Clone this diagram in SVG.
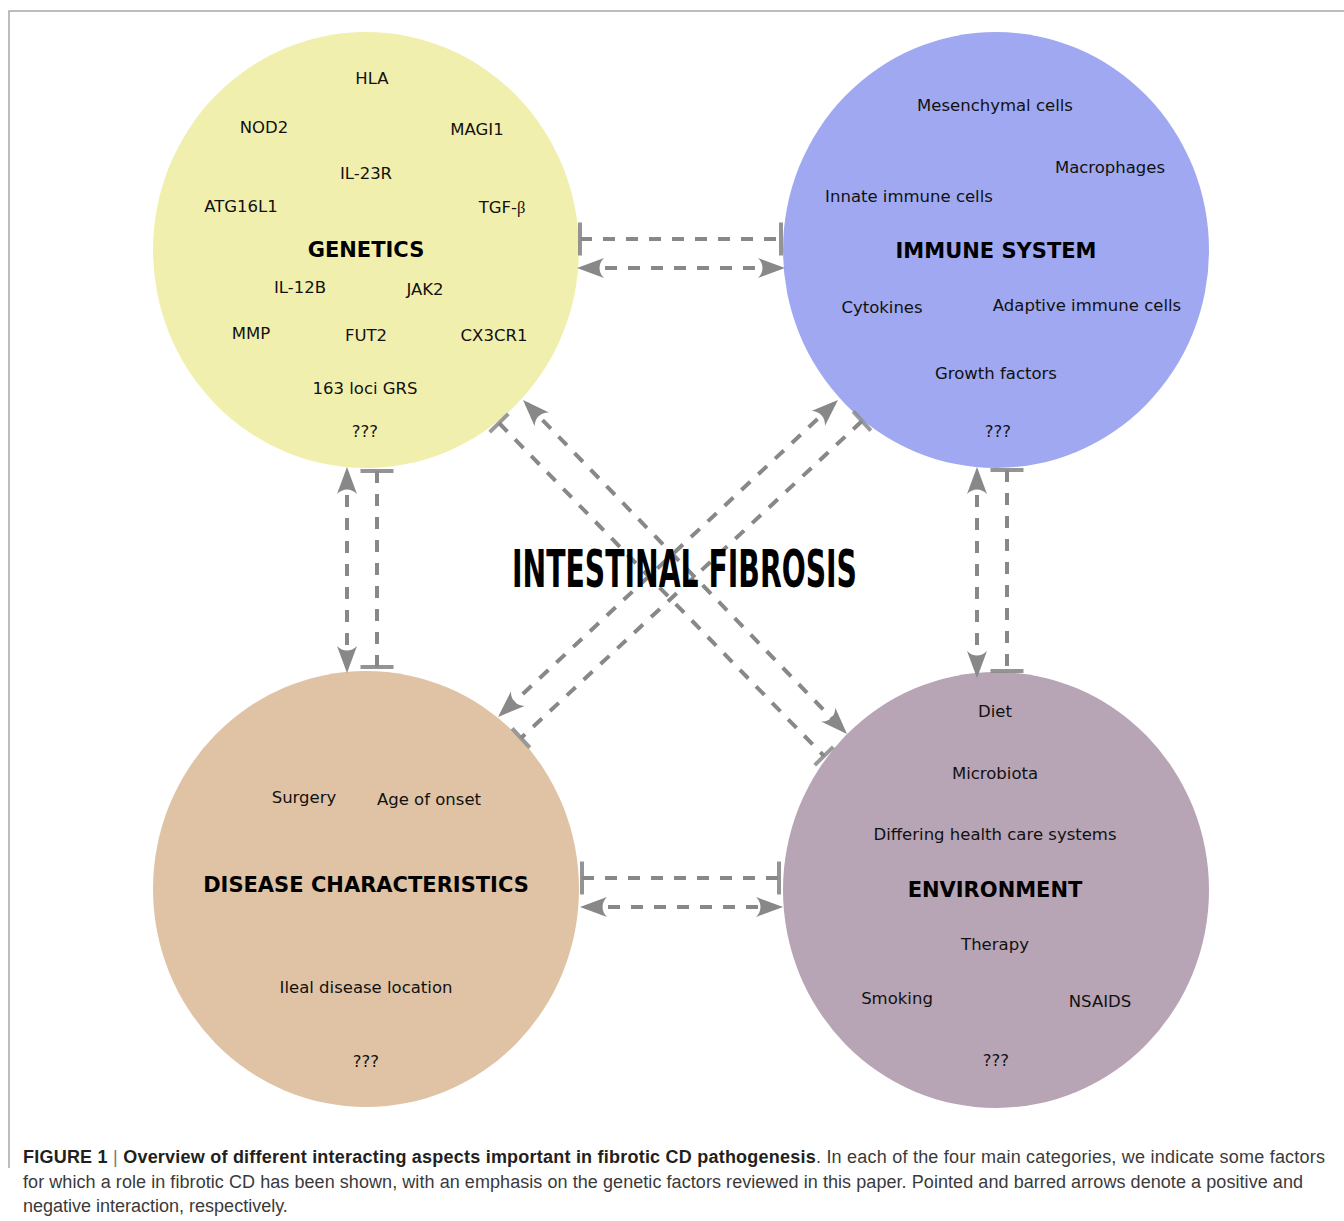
<svg xmlns="http://www.w3.org/2000/svg" width="1344" height="1221" viewBox="0 0 1344 1221">
<style>
  .lbl { font-family: "DejaVu Sans", "Liberation Sans", sans-serif; font-size: 16.5px; fill: #111; text-anchor: middle; }
  .ttl { font-family: "DejaVu Sans", "Liberation Sans", sans-serif; font-size: 21px; font-weight: bold; fill: #000; text-anchor: middle; }
  .con { fill: none; stroke: #888; stroke-width: 4; stroke-dasharray: 12 11; }
  .cap { font-family: "Liberation Sans", Arial, sans-serif; font-size: 18px; fill: #3a3a3a; }
  .capb { font-weight: bold; fill: #231f20; }
  .frame { stroke: #a8a8a8; stroke-width: 1.5; fill: none; }
</style>
<defs>
  <marker id="arrow" markerUnits="userSpaceOnUse" viewBox="-30 -12 40 24" refX="0" refY="0" markerWidth="40" markerHeight="24" orient="auto-start-reverse" overflow="visible">
    <path d="M5,0 L-22,-10 C-16,-4 -16,4 -22,10 Z" fill="#888"/>
  </marker>
  <marker id="bar" markerUnits="userSpaceOnUse" viewBox="-4 -18 8 36" refX="0" refY="0" markerWidth="8" markerHeight="36" orient="auto" overflow="visible">
    <path d="M0,-16.5 V16.5" stroke="#888" stroke-width="4" stroke-opacity="0.9"/>
  </marker>
  <marker id="bard" markerUnits="userSpaceOnUse" viewBox="-4 -16 8 32" refX="0" refY="0" markerWidth="8" markerHeight="32" orient="auto" overflow="visible">
    <path d="M0,-13 V13" stroke="#888" stroke-width="4" stroke-opacity="0.85"/>
  </marker>
</defs>

<rect x="0" y="0" width="1344" height="1221" fill="#fff"/>
<path class="frame" d="M9,1168 V11 H1344"/>

<g id="genetics">
  <ellipse cx="366" cy="250" rx="213" ry="218" fill="#f1efae"/>
  <text class="lbl" x="372" y="84">HLA</text>
  <text class="lbl" x="264" y="133">NOD2</text>
  <text class="lbl" x="477" y="135">MAGI1</text>
  <text class="lbl" x="366" y="179">IL-23R</text>
  <text class="lbl" x="241" y="212">ATG16L1</text>
  <text class="lbl" x="502" y="213">TGF-<tspan font-family="Liberation Serif, serif">β</tspan></text>
  <text class="ttl" x="366" y="257">GENETICS</text>
  <text class="lbl" x="300" y="293">IL-12B</text>
  <text class="lbl" x="425" y="295">JAK2</text>
  <text class="lbl" x="251" y="339">MMP</text>
  <text class="lbl" x="366" y="341">FUT2</text>
  <text class="lbl" x="494" y="341">CX3CR1</text>
  <text class="lbl" x="365" y="394">163 loci GRS</text>
  <text class="lbl" x="365" y="437">???</text>
</g>

<g id="immune-system">
  <ellipse cx="996" cy="250" rx="213" ry="218" fill="#9fa8f0"/>
  <text class="lbl" x="995" y="111">Mesenchymal cells</text>
  <text class="lbl" x="1110" y="173">Macrophages</text>
  <text class="lbl" x="909" y="202">Innate immune cells</text>
  <text class="ttl" x="996" y="258">IMMUNE SYSTEM</text>
  <text class="lbl" x="882" y="313">Cytokines</text>
  <text class="lbl" x="1087" y="311">Adaptive immune cells</text>
  <text class="lbl" x="996" y="379">Growth factors</text>
  <text class="lbl" x="998" y="437">???</text>
</g>

<g id="disease-characteristics">
  <ellipse cx="366" cy="889" rx="213" ry="218" fill="#dfc3a4"/>
  <text class="lbl" x="304" y="803">Surgery</text>
  <text class="lbl" x="429" y="805">Age of onset</text>
  <text class="ttl" x="366" y="892">DISEASE CHARACTERISTICS</text>
  <text class="lbl" x="366" y="993">Ileal disease location</text>
  <text class="lbl" x="366" y="1067">???</text>
</g>

<g id="environment">
  <ellipse cx="996" cy="890" rx="213" ry="218" fill="#b7a4b5"/>
  <text class="lbl" x="995" y="717">Diet</text>
  <text class="lbl" x="995" y="779">Microbiota</text>
  <text class="lbl" x="995" y="840">Differing health care systems</text>
  <text class="ttl" x="995" y="897">ENVIRONMENT</text>
  <text class="lbl" x="995" y="950">Therapy</text>
  <text class="lbl" x="897" y="1004">Smoking</text>
  <text class="lbl" x="1100" y="1007">NSAIDS</text>
  <text class="lbl" x="996" y="1066">???</text>
</g>

<g id="connectors">
  <!-- genetics - immune -->
  <path class="con" d="M580,239 H781" marker-start="url(#bar)" marker-end="url(#bar)"/>
  <path class="con" d="M582,268 H780" marker-start="url(#arrow)" marker-end="url(#arrow)"/>
  <!-- disease - environment -->
  <path class="con" d="M582,878 H779" marker-start="url(#bar)" marker-end="url(#bar)"/>
  <path class="con" d="M585,907 H778" marker-start="url(#arrow)" marker-end="url(#arrow)"/>
  <!-- genetics - disease -->
  <path class="con" d="M347,472 V668" marker-start="url(#arrow)" marker-end="url(#arrow)"/>
  <path class="con" d="M377,471 V667" marker-start="url(#bar)" marker-end="url(#bar)"/>
  <!-- immune - environment -->
  <path class="con" d="M977,472 V673" marker-start="url(#arrow)" marker-end="url(#arrow)"/>
  <path class="con" d="M1007,470 V671" marker-start="url(#bar)" marker-end="url(#bar)"/>
  <!-- genetics - environment diagonals -->
  <path class="con" d="M499,423 L824,756" marker-start="url(#bard)" marker-end="url(#bard)"/>
  <path class="con" d="M526.5,403.6 L843.5,730.4" marker-start="url(#arrow)" marker-end="url(#arrow)"/>
  <!-- immune - disease diagonals -->
  <path class="con" d="M834.3,403.4 L501.7,713.6" marker-start="url(#arrow)" marker-end="url(#arrow)"/>
  <path class="con" d="M862,421 L521,738" marker-start="url(#bard)" marker-end="url(#bard)"/>
</g>

<text id="title" x="512" y="587" font-family="DejaVu Sans, Liberation Sans, sans-serif" font-weight="bold" font-size="51" fill="#000" textLength="345" lengthAdjust="spacingAndGlyphs">INTESTINAL FIBROSIS</text>

<g id="caption">
  <text class="cap" x="23" y="1163" textLength="1302" lengthAdjust="spacing"><tspan class="capb">FIGURE 1</tspan><tspan fill="#777"> | </tspan><tspan class="capb">Overview of different interacting aspects important in fibrotic CD pathogenesis</tspan>. In each of the four main categories, we indicate some factors</text>
  <text class="cap" x="23" y="1188" textLength="1280" lengthAdjust="spacing">for which a role in fibrotic CD has been shown, with an emphasis on the genetic factors reviewed in this paper. Pointed and barred arrows denote a positive and</text>
  <text class="cap" x="23" y="1212">negative interaction, respectively.</text>
</g>
</svg>
